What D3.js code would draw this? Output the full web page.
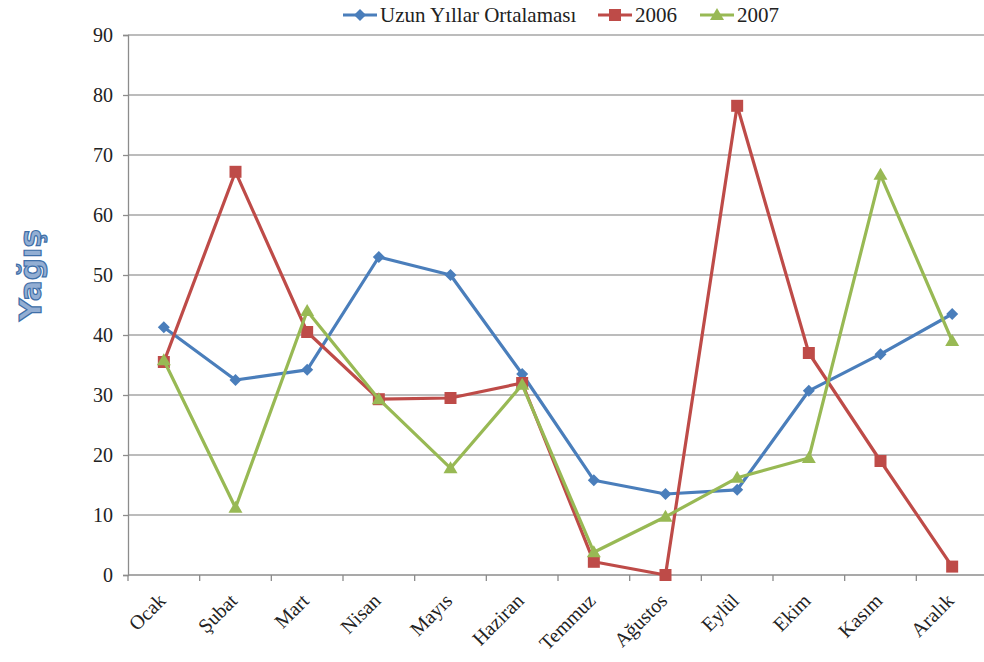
<!DOCTYPE html>
<html>
<head>
<meta charset="utf-8">
<script src="https://cdn.jsdelivr.net/npm/d3@7"></script>
<style>
  html, body { margin: 0; padding: 0; background: #fff; }
  svg { display: block; }
</style>
</head>
<body>
<svg id="chart" width="984" height="662"></svg>
<script>
// Monthly precipitation: long-term average vs. 2006 and 2007
const months = ["Ocak", "Şubat", "Mart", "Nisan", "Mayıs", "Haziran",
                "Temmuz", "Ağustos", "Eylül", "Ekim", "Kasım", "Aralık"];
const longTermAvg = [41.3, 32.5, 34.2, 53.0, 50.0, 33.5, 15.8, 13.5, 14.2, 30.7, 36.8, 43.5];
const year2006    = [35.5, 67.2, 40.5, 29.3, 29.5, 32.0, 2.2, 0.0, 78.2, 37.0, 19.0, 1.4];
const year2007    = [35.8, 11.2, 44.0, 29.3, 17.8, 31.7, 3.8, 9.7, 16.2, 19.5, 66.7, 39.0];
const yTicks = [0, 10, 20, 30, 40, 50, 60, 70, 80, 90];
const seriesNames = ["Uzun Yıllar Ortalaması", "2006", "2007"];

const series = [
  { name: seriesNames[0], values: longTermAvg, color: "#4a7ebb", marker: "diamond" },
  { name: seriesNames[1], values: year2006,    color: "#be4b48", marker: "square" },
  { name: seriesNames[2], values: year2007,    color: "#98b954", marker: "triangle" }
];

const svg = d3.select("#chart");
const margin = { left: 128, right: -4, top: 35, bottom: 87 };
const W = 984, H = 662;
const x0 = margin.left, x1 = W - margin.right;
const y0 = H - margin.bottom, y1 = margin.top;

const x = d3.scaleBand().domain(months).range([x0, x1]);
const y = d3.scaleLinear().domain([0, 90]).range([y0, y1]);

const serif = "'Liberation Serif', 'Times New Roman', serif";
const fs = 20;

// Horizontal gridlines
svg.append("g")
  .selectAll("line")
  .data(yTicks.filter(d => d > 0))
  .join("line")
  .attr("x1", x0).attr("x2", x1)
  .attr("y1", d => y(d)).attr("y2", d => y(d))
  .attr("stroke", "#a6a6a6").attr("stroke-width", 1.3);

// Y axis
const yAxis = svg.append("g")
  .attr("transform", `translate(${x0},0)`)
  .call(d3.axisLeft(y).tickValues(yTicks).tickSize(5).tickPadding(10));
yAxis.select(".domain").attr("stroke", "#8c8c8c").attr("stroke-width", 1.3);
yAxis.selectAll(".tick line").attr("stroke", "#8c8c8c").attr("stroke-width", 1.3);
yAxis.selectAll(".tick text")
  .attr("font-family", serif).attr("font-size", fs).attr("fill", "#222");

// X axis baseline with ticks between categories
const xAxis = svg.append("g").attr("transform", `translate(0,${y0})`);
xAxis.append("line")
  .attr("x1", x0).attr("x2", x1)
  .attr("stroke", "#8c8c8c").attr("stroke-width", 1.3);
xAxis.selectAll("line.tk")
  .data(months)
  .join("line")
  .attr("class", "tk")
  .attr("x1", d => x(d)).attr("x2", d => x(d))
  .attr("y1", 0).attr("y2", 6)
  .attr("stroke", "#8c8c8c").attr("stroke-width", 1.3);
xAxis.selectAll("text")
  .data(months)
  .join("text")
  .attr("transform", d => `translate(${x(d) + x.bandwidth() / 2 + 3},${27}) rotate(-45)`)
  .attr("text-anchor", "end")
  .attr("font-family", serif).attr("font-size", fs).attr("fill", "#222")
  .text(d => d);

// Y axis title
svg.append("text")
  .attr("transform", `translate(41,275) rotate(-90)`)
  .attr("text-anchor", "middle")
  .attr("font-family", "'DejaVu Sans', 'Noto Sans', sans-serif")
  .attr("font-weight", "bold").attr("font-size", 31)
  .attr("fill", "#93aed3").attr("stroke", "#3f6fa8").attr("stroke-width", 1.2)
  .text("Yağış");

// Marker shapes
function markerPath(type) {
  if (type === "diamond") return "M0,-6L6,0L0,6L-6,0Z";
  if (type === "square") return "M-6,-6H6V6H-6Z";
  return "M0,-7L7,5H-7Z";
}

const cx = d => x(d) + x.bandwidth() / 2;
const line = d3.line().x((v, i) => cx(months[i])).y(v => y(v));

series.forEach(s => {
  const g = svg.append("g");
  g.append("path")
    .attr("d", line(s.values))
    .attr("fill", "none").attr("stroke", s.color)
    .attr("stroke-width", 3.2).attr("stroke-linejoin", "round");
  g.selectAll("path.mk")
    .data(s.values)
    .join("path")
    .attr("class", "mk")
    .attr("transform", (v, i) => `translate(${cx(months[i])},${y(v)})`)
    .attr("d", markerPath(s.marker))
    .attr("fill", s.color);
});

// Legend
const legendItems = [
  { s: series[0], lx: 343, tx: 380 },
  { s: series[1], lx: 598, tx: 635 },
  { s: series[2], lx: 700, tx: 737 }
];
const lg = svg.append("g");
legendItems.forEach(it => {
  lg.append("line")
    .attr("x1", it.lx).attr("x2", it.lx + 34)
    .attr("y1", 15).attr("y2", 15)
    .attr("stroke", it.s.color).attr("stroke-width", 3.2);
  lg.append("path")
    .attr("transform", `translate(${it.lx + 17},15)`)
    .attr("d", markerPath(it.s.marker))
    .attr("fill", it.s.color);
  lg.append("text")
    .attr("x", it.tx).attr("y", 22)
    .attr("font-family", serif).attr("font-size", 21).attr("fill", "#222")
    .text(it.s.name);
});
</script>
</body>
</html>
